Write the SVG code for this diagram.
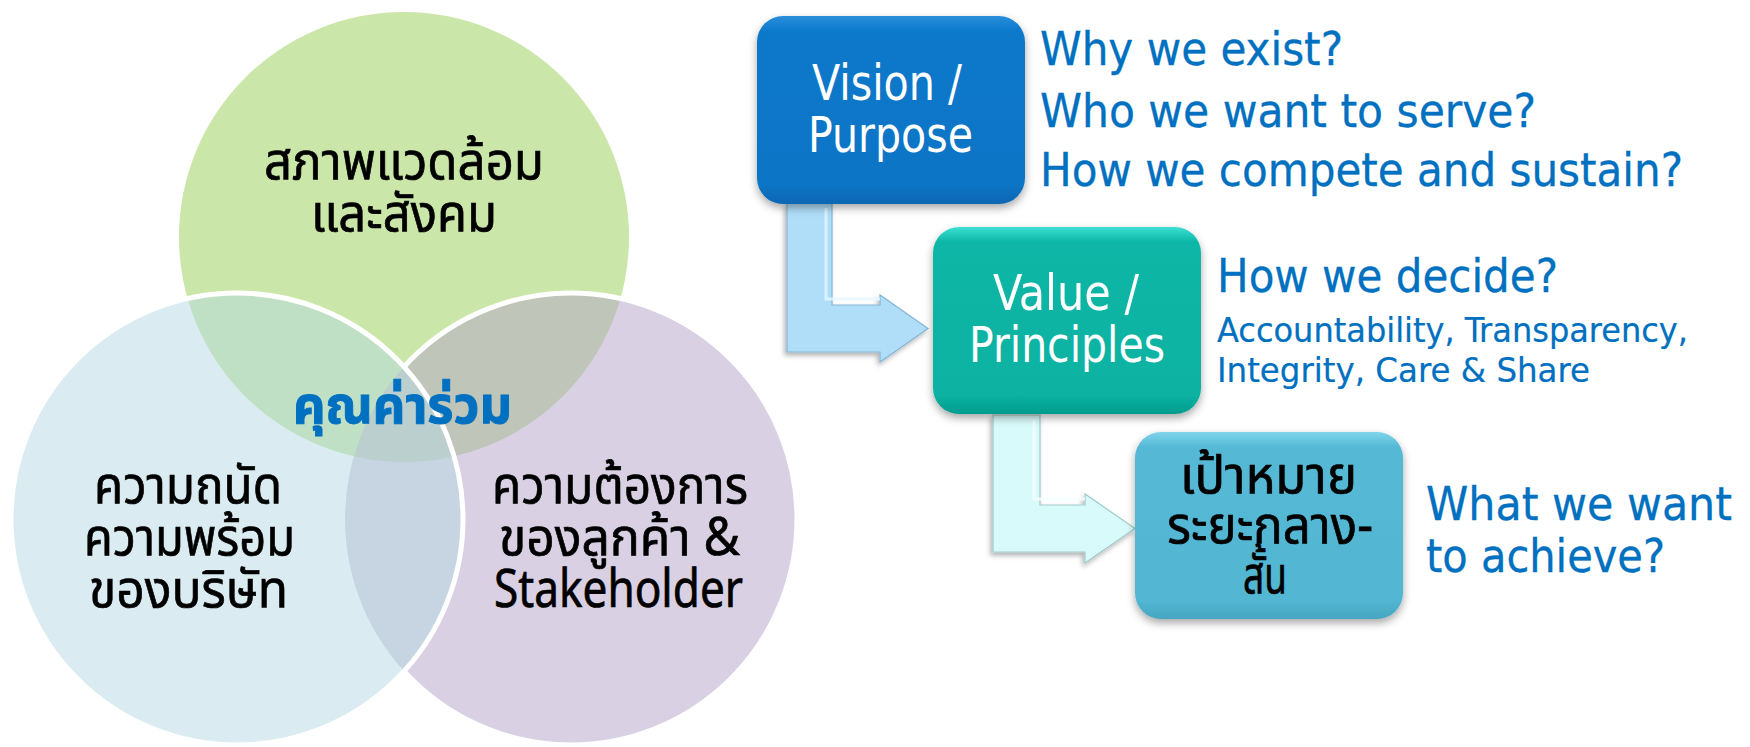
<svg xmlns="http://www.w3.org/2000/svg" width="1750" height="747" viewBox="0 0 1750 747">
  <defs>
    <style>
      .th { font-family: Tahoma, "Noto Sans Thai", "Noto Sans Thai UI", Loma, Garuda, "DejaVu Sans", sans-serif; font-size: 52px; fill: #000; stroke: #000; stroke-width: 0.7px; text-anchor: middle; }
      .lat { font-family: Tahoma, "DejaVu Sans Condensed", "DejaVu Sans", sans-serif; }
      .boxtxt { font-size: 49px; fill: #fff; text-anchor: middle; }
      .q { font-size: 47px; fill: #0070C0; stroke: #0070C0; stroke-width: 0.3px; }
      .qs { font-size: 33px; fill: #0070C0; stroke: #0070C0; stroke-width: 0.2px; }
    </style>
    <filter id="shadow" x="-20%" y="-20%" width="140%" height="140%">
      <feDropShadow dx="0" dy="4" stdDeviation="4" flood-color="#000" flood-opacity="0.35"/>
    </filter>
    <filter id="ashadow" x="-20%" y="-20%" width="140%" height="140%">
      <feDropShadow dx="-2" dy="3" stdDeviation="2.5" flood-color="#000" flood-opacity="0.3"/>
    </filter>
    <linearGradient id="gVision" x1="0" y1="0" x2="0" y2="1">
      <stop offset="0" stop-color="#2A8EDB"/>
      <stop offset="0.08" stop-color="#0B79CB"/>
      <stop offset="0.9" stop-color="#0A74C5"/>
      <stop offset="1" stop-color="#0866B3"/>
    </linearGradient>
    <linearGradient id="gValue" x1="0" y1="0" x2="0" y2="1">
      <stop offset="0" stop-color="#3FE0D4"/>
      <stop offset="0.08" stop-color="#09B6A6"/>
      <stop offset="0.9" stop-color="#07B2A2"/>
      <stop offset="1" stop-color="#069C8E"/>
    </linearGradient>
    <linearGradient id="gGoal" x1="0" y1="0" x2="0" y2="1">
      <stop offset="0" stop-color="#80D4EA"/>
      <stop offset="0.08" stop-color="#55B9D5"/>
      <stop offset="0.9" stop-color="#52B6D2"/>
      <stop offset="1" stop-color="#47A6C1"/>
    </linearGradient>
    <mask id="outsideLeft">
      <rect x="0" y="0" width="1750" height="747" fill="#fff"/>
      <circle cx="237" cy="519" r="226" fill="#000"/>
    </mask>
  </defs>

  <rect width="1750" height="747" fill="#fff"/>

  <!-- Venn circles -->
  <g id="circle-env">
    <circle cx="404" cy="237" r="225" fill="#CAE6A8"/>
  </g>
  <g id="circle-customer">
    <circle cx="571" cy="519" r="226" fill="#B3A3C7" fill-opacity="0.5"/>
    <circle cx="571" cy="519" r="226" fill="none" stroke="#fff" stroke-width="5" mask="url(#outsideLeft)"/>
  </g>
  <g id="circle-company">
    <circle cx="237" cy="519" r="226" fill="#B5D9E3" fill-opacity="0.5" stroke="#fff" stroke-width="5"/>
  </g>

  <g id="label-env">
    <text class="th" x="404" y="179" textLength="280" lengthAdjust="spacingAndGlyphs">สภาพแวดล้อม</text>
    <text class="th" x="404" y="231" textLength="186" lengthAdjust="spacingAndGlyphs">และสังคม</text>
  </g>
  <g id="label-shared">
    <text class="th" x="402.5" y="423" font-weight="bold" style="fill:#0070C0;stroke:#0070C0;stroke-width:1px" textLength="219" lengthAdjust="spacingAndGlyphs">คุณค่าร่วม</text>
  </g>
  <g id="label-company">
    <text class="th" x="188" y="503" textLength="188" lengthAdjust="spacingAndGlyphs">ความถนัด</text>
    <text class="th" x="189.5" y="555" textLength="211" lengthAdjust="spacingAndGlyphs">ความพร้อม</text>
    <text class="th" x="188.5" y="607" textLength="199" lengthAdjust="spacingAndGlyphs">ของบริษัท</text>
  </g>
  <g id="label-customer">
    <text class="th" x="620" y="503" textLength="256" lengthAdjust="spacingAndGlyphs">ความต้องการ</text>
    <text class="th" x="619.5" y="555" textLength="241" lengthAdjust="spacingAndGlyphs">ของลูกค้า &amp;</text>
    <text class="th" x="618.5" y="607" textLength="249" lengthAdjust="spacingAndGlyphs">Stakeholder</text>
  </g>

  <!-- Connectors (bent arrows) -->
  <g id="connectors">
    <path d="M787,203 L832,203 L832,305 L880,305 L880,295 L928,328.5 L880,362 L880,352 L787,352 Z" fill="#B0DEF9" stroke="#86B6D6" stroke-width="1.2" filter="url(#ashadow)"/>
    <path d="M826,208 L826,299 L880,299" fill="none" stroke="#E6F6FF" stroke-width="3" opacity="0.8"/>
    <path d="M993,415 L1040,415 L1040,505 L1085,505 L1085,494 L1135,528.5 L1085,563 L1085,552 L993,552 Z" fill="#D8FAFA" stroke="#A3CACA" stroke-width="1.2" filter="url(#ashadow)"/>
    <path d="M1034,420 L1034,499 L1085,499" fill="none" stroke="#F4FFFF" stroke-width="3" opacity="0.8"/>
  </g>

  <!-- Boxes -->
  <g id="node-vision">
    <rect x="757" y="16" width="268" height="188" rx="26" fill="url(#gVision)" filter="url(#shadow)"/>
    <text class="lat boxtxt" x="887" y="100" textLength="150" lengthAdjust="spacingAndGlyphs">Vision /</text>
    <text class="lat boxtxt" x="890.5" y="152" textLength="165" lengthAdjust="spacingAndGlyphs">Purpose</text>
  </g>
  <g id="text-vision">
    <text class="lat q" x="1040" y="65" textLength="303" lengthAdjust="spacingAndGlyphs">Why we exist?</text>
    <text class="lat q" x="1040" y="127" textLength="496" lengthAdjust="spacingAndGlyphs">Who we want to serve?</text>
    <text class="lat q" x="1040" y="186" textLength="643" lengthAdjust="spacingAndGlyphs">How we compete and sustain?</text>
  </g>

  <g id="node-value">
    <rect x="933" y="227" width="268" height="187" rx="26" fill="url(#gValue)" filter="url(#shadow)"/>
    <text class="lat boxtxt" x="1066" y="310" textLength="146" lengthAdjust="spacingAndGlyphs">Value /</text>
    <text class="lat boxtxt" x="1067" y="362" textLength="196" lengthAdjust="spacingAndGlyphs">Principles</text>
  </g>
  <g id="text-value">
    <text class="lat q" x="1217" y="292" textLength="341" lengthAdjust="spacingAndGlyphs">How we decide?</text>
    <text class="lat qs" x="1217" y="342" textLength="471" lengthAdjust="spacingAndGlyphs">Accountability, Transparency,</text>
    <text class="lat qs" x="1217" y="382" textLength="373" lengthAdjust="spacingAndGlyphs">Integrity, Care &amp; Share</text>
  </g>

  <g id="node-goal">
    <rect x="1135" y="432" width="268" height="187" rx="26" fill="url(#gGoal)" filter="url(#shadow)"/>
    <text class="th" x="1268.5" y="493" textLength="177" lengthAdjust="spacingAndGlyphs">เป้าหมาย</text>
    <text class="th" x="1270" y="543" textLength="206" lengthAdjust="spacingAndGlyphs">ระยะกลาง-</text>
    <text class="th" x="1265" y="593" textLength="44" lengthAdjust="spacingAndGlyphs">สั้น</text>
  </g>
  <g id="text-goal">
    <text class="lat q" x="1426" y="520" textLength="306" lengthAdjust="spacingAndGlyphs">What we want</text>
    <text class="lat q" x="1426" y="572" textLength="239" lengthAdjust="spacingAndGlyphs">to achieve?</text>
  </g>
</svg>
